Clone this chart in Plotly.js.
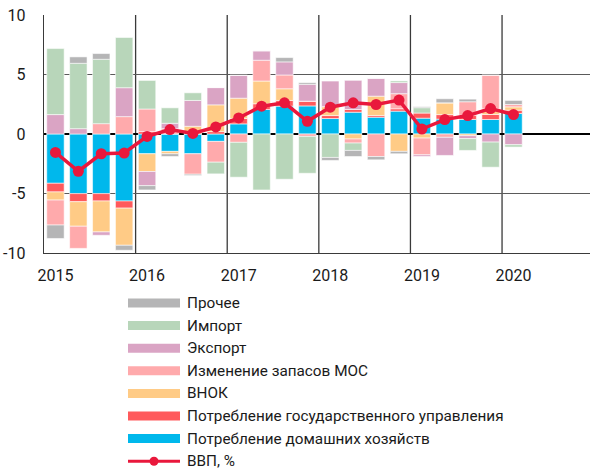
<!DOCTYPE html>
<html>
<head>
<meta charset="utf-8">
<script src="https://cdn.plot.ly/plotly-3.0.1.min.js"></script>
<style>html,body{margin:0;padding:0;background:#fff;}#chart{width:590px;height:469px;}</style>
</head>
<body>
<div id="chart"></div>
<script>
// ---- data ----
const quarters = ['2015Q1','2015Q2','2015Q3','2015Q4','2016Q1','2016Q2','2016Q3','2016Q4',
  '2017Q1','2017Q2','2017Q3','2017Q4','2018Q1','2018Q2','2018Q3','2018Q4',
  '2019Q1','2019Q2','2019Q3','2019Q4','2020Q1'];
const households  = [-4.14,-5.01,-5.01,-5.63,-1.66,-1.46,-1.66,-0.62, 0.85, 2.06, 2.34, 2.36, 1.30, 1.83, 1.41, 1.92, 1.33, 1.25, 1.22, 1.22, 1.72];
const government  = [-0.73,-0.68,-0.62,-0.60, 0.20, 0.00, 0.00, 0.20, 0.45, 0.48, 0.48, 0.40, 0.25, 0.23, 0.14, 0.20, 0.43, 0.38, 0.36, 0.42, 0.28];
const gfcf        = [-0.68,-2.06,-2.60,-3.12,-1.49,-0.20, 0.65, 2.25, 1.71, 1.91, 0.98, 0.00, 0.75,-0.42, 1.63,-1.46,-0.34, 0.99,-0.14, 0.48, 0.28];
const inventories = [-2.10,-1.86, 0.87, 1.46, 1.90, 0.45,-1.72,-1.75,-0.70, 1.75, 1.16,-0.20, 0.00,-0.34,-1.89, 1.27,-1.41,-0.28, 1.13, 2.82, 0.20];
const exports     = [ 1.63, 0.45,-0.28, 2.43,-1.19, 0.45, 2.17, 1.45, 1.92, 0.79, 1.10, 1.41, 2.15, 2.45, 1.50, 0.93,-0.14,-1.52,-0.25,-0.68,-0.90];
const imports     = [ 5.55, 5.49, 5.41, 4.22, 2.40, 1.30, 0.64,-0.98,-2.93,-4.70,-3.80,-3.10,-1.97,-0.62, 0.00, 0.14, 0.45, 0.00,-0.99,-2.11,-0.20];
const other       = [-1.13, 0.54, 0.48,-0.42,-0.36,-0.23,-0.11, 0.00, 0.00, 0.00, 0.36, 0.14,-0.25,-0.51,-0.28,-0.20, 0.08, 0.34, 0.22, 0.00, 0.34];
const gdp         = [-1.55,-3.13,-1.66,-1.60,-0.20, 0.37, 0.05, 0.59, 1.35, 2.34, 2.62, 1.07, 2.25, 2.62, 2.48, 2.85, 0.42, 1.21, 1.55, 2.14, 1.63];

const seriesNames = ['Потребление домашних хозяйств','Потребление государственного управления','ВНОК',
  'Изменение запасов МОС','Экспорт','Импорт','Прочее'];
const lineName = 'ВВП, %';
const yTickValues = [-10,-5,0,5,10];
const yTickLabels = ['-10','-5','0','5','10'];

// ---- styles ----
const seriesData = [households, government, gfcf, inventories, exports, imports, other];
const seriesColors = ['#00B8EC','#FF5A5C','#FFCB86','#FFAAAC','#DAA4C4','#B8D6BA','#B5B5B6'];
const lineColor = '#E9183C';
const FONT = 'Roboto, "Open Sans", sans-serif';

const xIdx = quarters.map((q,i)=>i);
const yearTickVals = [], yearTickText = [];
quarters.forEach((q,i)=>{ if (q.endsWith('Q1')) { yearTickVals.push(i); yearTickText.push(q.slice(0,4)); } });

const traces = seriesData.map((vals,k)=>({
  type:'bar', x:xIdx, y:vals, name:seriesNames[k], width:0.76,
  marker:{color:seriesColors[k], line:{color:'rgba(255,255,255,0.55)', width:1}},
  showlegend:false, hoverinfo:'skip'
}));
traces.push({
  type:'scatter', mode:'lines+markers', x:xIdx, y:gdp, name:lineName,
  line:{color:lineColor, width:3.5}, marker:{color:lineColor, size:11},
  showlegend:false, hoverinfo:'skip'
});

// layout geometry
const W=590, H=469, mL=44, mR=0, mT=15, mB=216;
const plotW = W-mL-mR, plotH = H-mT-mB;
const px2x = px => (px-mL)/plotW;
const py2y = py => (H-mB-py)/plotH;

const shapes = [];
// vertical year-boundary grid lines
yearTickVals.forEach(v=>{ if (v>0) shapes.push({type:'line', xref:'x', yref:'paper', x0:v-0.5, x1:v-0.5, y0:0, y1:1,
  line:{color:'#3a3a3a', width:1.3}, layer:'below'}); });

// custom legend
const annotations = [];
const legendOrder = [6,5,4,3,2,1,0];
const rowY0 = 303, rowStep = 22.6, swL = 128, swR = 180, txtX = 185, swH = 9;
legendOrder.forEach((k,r)=>{
  const cy = rowY0 + r*rowStep;
  shapes.push({type:'rect', xref:'paper', yref:'paper', x0:px2x(swL), x1:px2x(swR), y0:py2y(cy+swH/2), y1:py2y(cy-swH/2),
    fillcolor:seriesColors[k], line:{width:0}});
  annotations.push({xref:'paper', yref:'paper', x:px2x(txtX), y:py2y(cy), xanchor:'left', yanchor:'middle',
    text:seriesNames[k], showarrow:false, font:{family:FONT, size:15.3, color:'#1a1a1a'}});
});
{
  const cy = rowY0 + legendOrder.length*rowStep;
  shapes.push({type:'line', xref:'paper', yref:'paper', x0:px2x(swL), x1:px2x(swR), y0:py2y(cy), y1:py2y(cy),
    line:{color:lineColor, width:3}});
  const cx = (swL+swR)/2, rr = 4.5;
  shapes.push({type:'circle', xref:'paper', yref:'paper', x0:px2x(cx-rr), x1:px2x(cx+rr), y0:py2y(cy+rr), y1:py2y(cy-rr),
    fillcolor:lineColor, line:{width:0}});
  annotations.push({xref:'paper', yref:'paper', x:px2x(txtX), y:py2y(cy), xanchor:'left', yanchor:'middle',
    text:lineName, showarrow:false, font:{family:FONT, size:15.3, color:'#1a1a1a'}});
}

const layout = {
  width:W, height:H, margin:{l:mL, r:mR, t:mT, b:mB, pad:0},
  paper_bgcolor:'#fff', plot_bgcolor:'#fff',
  barmode:'relative', bargap:0.24,
  font:{family:FONT, size:16, color:'#1a1a1a'},
  xaxis:{range:[-0.5, 23.34], tickvals:yearTickVals, ticktext:yearTickText, showgrid:false, zeroline:false,
    showline:true, linecolor:'#3a3a3a', linewidth:1.3, ticks:'outside', ticklen:7, tickcolor:'rgba(0,0,0,0)',
    tickfont:{family:FONT, size:16, color:'#1a1a1a'}, fixedrange:true},
  yaxis:{range:[-10,10], tickvals:yTickValues, ticktext:yTickLabels, showgrid:true, gridcolor:'#5a5a5a', gridwidth:1.3,
    zeroline:true, zerolinecolor:'#000', zerolinewidth:1.6, showline:true, linecolor:'#3a3a3a', linewidth:1.3,
    ticks:'outside', ticklen:14, tickcolor:'rgba(0,0,0,0)', tickfont:{family:FONT, size:16, color:'#1a1a1a'}, fixedrange:true},
  shapes:shapes, annotations:annotations, showlegend:false
};

Plotly.newPlot('chart', traces, layout, {displayModeBar:false, staticPlot:true});
</script>
</body>
</html>
